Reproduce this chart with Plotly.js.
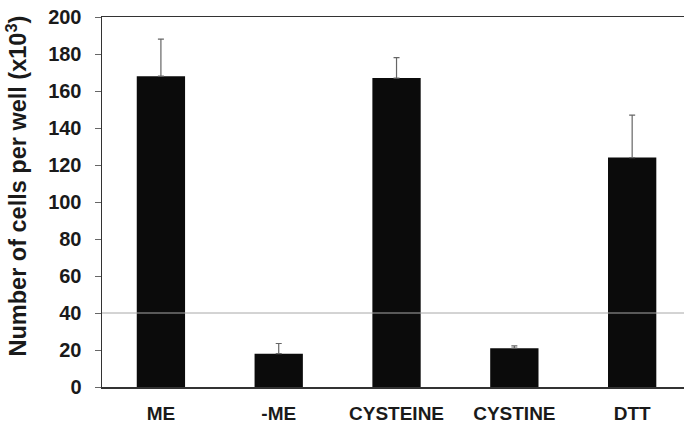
<!DOCTYPE html>
<html>
<head>
<meta charset="utf-8">
<script src="https://cdn.plot.ly/plotly-3.0.1.min.js"></script>
<style>html,body{margin:0;padding:0;background:#fff;}#chart{width:684px;height:425px;}</style>
</head>
<body>
<div id="chart"></div>
<script>
const categories = ["ME", "-ME", "CYSTEINE", "CYSTINE", "DTT"];
const cellCounts = [168, 18, 167, 21, 124];
const errorUp = [20, 5.5, 11, 1.2, 23];
const yTickValues = [0, 20, 40, 60, 80, 100, 120, 140, 160, 180, 200];
const referenceLevel = 40;

const FONT = "Liberation Sans, Arial, sans-serif";

const trace = {
  type: "bar",
  x: categories,
  y: cellCounts,
  marker: {color: "#0b0b0b", line: {width: 0}},
  width: 0.41,
  error_y: {
    type: "data",
    symmetric: false,
    array: errorUp,
    arrayminus: categories.map(() => 0),
    color: "#666",
    thickness: 1.2,
    width: 3
  },
  hoverinfo: "none"
};

const layout = {
  width: 684,
  height: 425,
  margin: {l: 102, r: 0, t: 17, b: 38, pad: 0},
  paper_bgcolor: "#fff",
  plot_bgcolor: "#fff",
  showlegend: false,
  bargap: 0.59,
  xaxis: {
    type: "category",
    range: [-0.5, 4.44],
    showline: true,
    linecolor: "#333",
    linewidth: 1.5,
    mirror: true,
    ticks: "",
    showgrid: false,
    zeroline: false,
    tickfont: {family: FONT, size: 19, weight: "bold", color: "#1a1a1a"},
    ticklabelstandoff: 9
  },
  yaxis: {
    range: [0, 200],
    tickvals: yTickValues,
    ticktext: yTickValues.map(String),
    showline: true,
    linecolor: "#333",
    linewidth: 1.5,
    ticks: "outside",
    ticklen: 6,
    tickwidth: 1,
    tickcolor: "#666",
    showgrid: false,
    zeroline: false,
    tickfont: {family: FONT, size: 20, weight: "bold", color: "#1a1a1a"},
    ticklabelstandoff: 9
  },
  shapes: [{
    type: "line",
    xref: "paper", yref: "y",
    x0: 0, x1: 1,
    y0: referenceLevel, y1: referenceLevel,
    line: {color: "#a8a8a8", width: 1}
  }],
  annotations: [{
    text: "<b>Number of cells per well (x10<sup>3</sup>)</b>",
    textangle: -90,
    xref: "paper", yref: "paper",
    x: (16 - 102) / 582,
    y: (387 - 186.5) / 370,
    xanchor: "center", yanchor: "middle",
    showarrow: false,
    font: {family: FONT, size: 23.5, color: "#1a1a1a"}
  }]
};

Plotly.newPlot("chart", [trace], layout, {staticPlot: true, displayModeBar: false});
</script>
</body>
</html>
